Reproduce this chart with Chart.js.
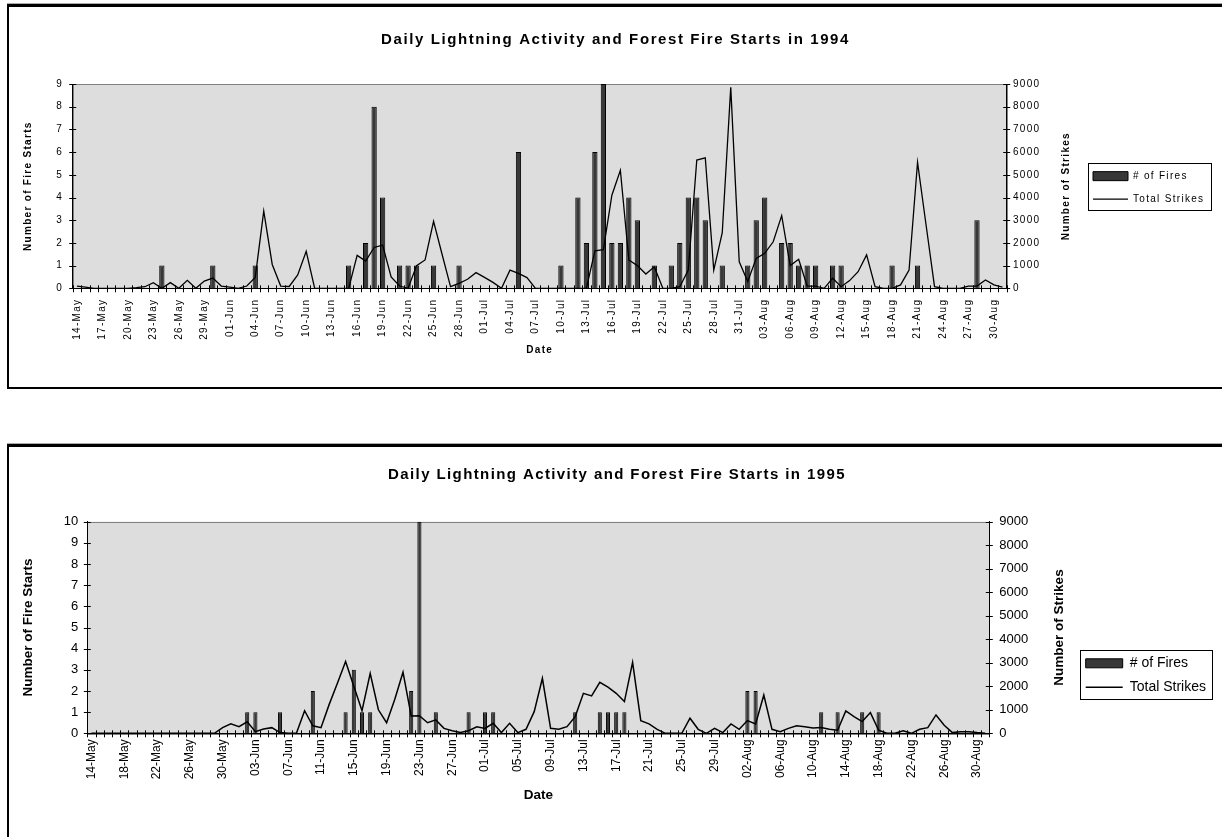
<!DOCTYPE html>
<html>
<head>
<meta charset="utf-8">
<script src="https://cdn.jsdelivr.net/npm/chart.js@4.4.1/dist/chart.umd.min.js"></script>
<style>
html, body { margin: 0; padding: 0; background: #fff; width: 1222px; height: 837px; overflow: hidden; }
canvas { position: absolute; left: 0; }
#c94 { top: 0; }
#c95 { top: 440px; }
.frame { position: absolute; left: 7px; width: 1400px; border-left: 2px solid #000; pointer-events: none; box-shadow: 0 -1px 0 #aaa; }
#f94 { top: 4px; height: 380px; border-top: 3px solid #000; border-bottom: 2px solid #000; }
#f95 { top: 444px; height: 500px; border-top: 3px solid #000; }
</style>
</head>
<body>
<canvas id="c94" width="1222" height="440"></canvas>
<canvas id="c95" width="1222" height="397"></canvas>
<div class="frame" id="f94"></div>
<div class="frame" id="f95"></div>
<script>
// daily values, 14-May .. 31-Aug
const fires94 = [
  0,0,0,0,0,0,0,0,0,0,
  1,0,0,0,0,0,1,0,0,0,
  0,1,0,0,0,0,0,0,0,0,
  0,0,1,0,2,8,4,0,1,1,
  1,0,1,0,0,1,0,0,0,0,
  0,0,6,0,0,0,0,1,0,4,
  2,6,9,2,2,4,3,0,1,0,
  1,2,4,4,3,0,1,0,0,1,
  3,4,0,2,2,1,1,1,0,1,
  1,0,0,0,0,0,1,0,0,1,
  0,0,0,0,0,0,3,0,0,0]
const strikes94 = [
  100,50,0,0,0,0,0,30,70,250,
  0,250,0,350,0,320,450,100,50,0,
  100,480,3400,1050,100,80,590,1630,0,0,
  0,0,0,1450,1200,1800,1900,500,100,0,
  1000,1250,2950,1500,70,220,400,690,480,260,
  0,800,660,470,0,0,0,0,0,0,
  0,1650,1700,4100,5200,1250,1000,630,950,0,
  0,70,800,5650,5750,800,2450,8850,1170,300,
  1320,1540,2050,3200,1000,1280,100,100,0,440,
  70,340,730,1470,70,0,0,150,800,5550,
  2800,70,0,0,0,100,100,370,150,50]
const fires95 = [
  0,0,0,0,0,0,0,0,0,0,
  0,0,0,0,0,0,0,0,0,1,
  1,0,0,1,0,0,0,2,0,0,
  0,1,3,1,1,0,0,0,0,2,
  10,0,1,0,0,0,1,0,1,1,
  0,0,0,0,0,0,0,0,0,1,
  0,0,1,1,1,1,0,0,0,0,
  0,0,0,0,0,0,0,0,0,0,
  2,2,0,0,0,0,0,0,0,1,
  0,1,0,0,1,0,1,0,0,0,
  0,0,0,0,0,0,0,0,0,0]
const strikes95 = [
  0,0,0,0,0,0,0,0,0,0,
  0,0,0,0,0,0,240,400,285,490,
  70,185,240,30,0,0,960,320,240,1230,
  2130,3050,2000,960,2550,1000,450,1450,2600,740,
  750,450,570,210,110,30,110,280,210,425,
  30,425,30,170,920,2340,210,170,280,710,
  1700,1590,2170,1960,1700,1350,3020,540,400,170,
  0,0,0,640,170,0,210,30,400,170,
  540,400,1630,170,70,210,320,280,225,250,
  170,130,950,710,500,880,130,0,0,110,
  0,170,240,780,340,30,70,70,30,0]
const fireMax94 = 9
const fireMax95 = 10
const strikeMax = 9000
const months = ['Jan','Feb','Mar','Apr','May','Jun','Jul','Aug','Sep','Oct','Nov','Dec']

function dayLabels(year, n) {
  let out = []
  for (let i = 0; i < n; i++) {
    let d = new Date(year, 4, 14 + i)
    out.push(String(d.getDate()).padStart(2, '0') + '-' + months[d.getMonth()])
  }
  return out
}

const FONT = '"Liberation Sans", Arial, sans-serif'
Chart.defaults.font.family = FONT
Chart.defaults.color = '#000'

// plot background, crossing tick marks, right axis title, legend frame
const excelLook = {
  id: 'excelLook',
  beforeUpdate(chart, args, o) {
    chart.ctx.letterSpacing = o.spacing + 'px'
  },
  afterLayout(chart, args, o) {
    // legend sits in the chartArea slot, move it out to the right margin
    let lg = chart.legend
    let dx = o.legendLeft - lg.left
    lg.left += dx; lg.right += dx
    lg.top += o.legendShift; lg.bottom += o.legendShift
    let tb = chart.titleBlock
    if (!tb.spaced) {
      let draw = tb.draw
      tb.draw = function () {
        let c = this.ctx, prev = c.letterSpacing
        c.letterSpacing = o.titleSpacing + 'px'
        draw.apply(this, arguments)
        c.letterSpacing = prev
      }
      tb.spaced = true
    }
  },
  beforeDraw(chart, args, o) {
    let {ctx, chartArea: a} = chart
    ctx.letterSpacing = o.spacing + 'px'
    ctx.save()
    ctx.fillStyle = '#dddddd'
    ctx.fillRect(a.left, a.top, a.width, a.height)
    ctx.strokeStyle = '#808080'
    ctx.lineWidth = 1
    ctx.strokeRect(Math.round(a.left) + .5, Math.round(a.top) + .5, Math.round(a.width), Math.round(a.height))
    ctx.restore()
  },
  afterDraw(chart, args, o) {
    let {ctx, chartArea: a, scales: {x, y, y1}} = chart
    ctx.save()
    ctx.strokeStyle = '#000'
    ctx.lineWidth = 1
    ctx.beginPath()
    for (let i = 0; i <= chart.data.labels.length; i++) {
      let px = Math.round(x.getPixelForValue(i - 0.5)) + .5
      ctx.moveTo(px, a.bottom - 3); ctx.lineTo(px, a.bottom + 4)
    }
    ;[[y, a.left], [y1, a.right]].forEach(([s, edge]) => {
      s.ticks.forEach((t, i) => {
        let py = Math.round(s.getPixelForTick(i)) + .5
        ctx.moveTo(edge - 3.5, py); ctx.lineTo(edge + 3.5, py)
      })
    })
    ctx.stroke()
    // legend frame
    let hb = chart.legend.legendHitBoxes, f = o.legendFrame
    let last = hb[hb.length - 1]
    let top = hb[0].top - f.top, bottom = last.top + last.height + f.bottom
    ctx.strokeRect(Math.round(hb[0].left - f.left) + .5, Math.round(top) + .5, Math.round(f.width), Math.round(bottom - top))
    // right axis title reads bottom-to-top like the left one
    ctx.fillStyle = '#000'
    ctx.font = 'bold ' + o.axisTitleSize + 'px ' + FONT
    ctx.textAlign = 'center'
    ctx.textBaseline = 'middle'
    ctx.translate(a.right + o.rightTitleX, (a.top + a.bottom) / 2)
    ctx.rotate(-Math.PI / 2)
    ctx.fillText('Number of Strikes', 0, 0)
    ctx.restore()
  }
}

function lightningChart(id, year, fires, strikes, fireMax, lk) {
  let labels = dayLabels(year, fires.length)
  return new Chart(document.getElementById(id), {
    type: 'bar',
    data: {
      labels: labels,
      datasets: [{
        type: 'bar',
        label: '# of Fires',
        data: fires,
        yAxisID: 'y',
        backgroundColor: '#383838',
        borderColor: '#000',
        borderWidth: 1,
        barPercentage: lk.bar,
        categoryPercentage: 1,
        pointStyle: 'rect',
        order: 1
      }, {
        type: 'line',
        label: 'Total Strikes',
        data: strikes,
        yAxisID: 'y1',
        borderColor: '#000',
        borderWidth: lk.line,
        pointRadius: 0,
        pointBorderWidth: lk.line,
        pointStyle: 'line',
        tension: 0,
        order: 0
      }]
    },
    options: {
      responsive: false,
      animation: false,
      events: [],
      layout: { padding: { left: lk.padL, right: 5, top: 0, bottom: 0 } },
      scales: {
        x: {
          offset: true,
          grid: { display: false, drawTicks: false },
          border: { color: '#000', width: 1 },
          ticks: {
            autoSkip: false, maxRotation: 90, minRotation: 90,
            padding: lk.xPad, font: { size: lk.xFont }, color: '#000',
            callback: (v, i) => i % lk.step ? '' : labels[i]
          },
          title: { display: true, text: 'Date', color: '#000',
            font: { size: lk.axisTitleSize, weight: 'bold' }, padding: { top: 0, bottom: lk.xTitlePad } },
          afterFit: s => { s.height = lk.xHeight }
        },
        y: {
          position: 'left', min: 0, max: fireMax,
          grid: { display: false, drawTicks: false },
          border: { color: '#000', width: 1 },
          ticks: { stepSize: 1, padding: lk.yPad, font: { size: lk.yFont }, color: '#000' },
          title: { display: true, text: 'Number of Fire Starts', color: '#000',
            font: { size: lk.axisTitleSize, weight: 'bold' }, padding: { top: lk.yTitlePad, bottom: 0 } },
          afterFit: s => { s.width = lk.yWidth }
        },
        y1: {
          position: 'right', min: 0, max: strikeMax,
          grid: { display: false, drawTicks: false },
          border: { color: '#000', width: 1 },
          ticks: { stepSize: 1000, padding: lk.y1Pad, font: { size: lk.yFont }, color: '#000', callback: v => v },
          afterFit: s => { s.width = lk.y1Width }
        }
      },
      plugins: {
        tooltip: { enabled: false },
        title: {
          display: true,
          text: 'Daily Lightning Activity and Forest Fire Starts in ' + year,
          color: '#000',
          font: { size: 15, weight: 'bold' },
          padding: { top: lk.titleTop, bottom: lk.titleBottom }
        },
        legend: {
          position: 'chartArea',
          labels: {
            usePointStyle: true, pointStyleWidth: lk.swatch, boxHeight: 9,
            padding: lk.legendPad, font: { size: lk.legendFont }, color: '#000',
            sort: (a, b) => a.datasetIndex - b.datasetIndex
          }
        },
        excelLook: {
          spacing: lk.spacing, titleSpacing: lk.titleSpacing,
          legendLeft: lk.legendLeft, legendShift: lk.legendShift, legendFrame: lk.frame,
          axisTitleSize: lk.axisTitleSize, rightTitleX: lk.rightTitleX
        }
      }
    },
    plugins: [excelLook]
  })
}

lightningChart('c94', 1994, fires94, strikes94, fireMax94, {
  padL: 14, spacing: 1.3, titleSpacing: 1.6, titleTop: 31.3, titleBottom: 34.7,
  yWidth: 58.7, y1Width: 210.3, xHeight: 151.7,
  yFont: 10, xFont: 10, axisTitleSize: 10, yPad: 9.7, y1Pad: 6.3, xPad: 10.4,
  yTitlePad: 8.3, xTitlePad: 84, rightTitleX: 59.3, step: 3,
  bar: .62, line: 1.3,
  legendFont: 10, legendPad: 13, swatch: 35, legendLeft: 1080, legendShift: 85.5,
  frame: { left: 5, top: 8, bottom: 6.4, width: 123.4 }
})

lightningChart('c95', 1995, fires95, strikes95, fireMax95, {
  padL: 17, spacing: 0, titleSpacing: 1.4, titleTop: 26, titleBottom: 37.7,
  yWidth: 70.3, y1Width: 227.7, xHeight: 103.7,
  yFont: 13, xFont: 12, axisTitleSize: 13.5, yPad: 9, y1Pad: 10, xPad: 6,
  yTitlePad: 2.9, xTitlePad: 33.9, rightTitleX: 69.7, step: 4,
  bar: .5, line: 1.5,
  legendFont: 14, legendPad: 10, swatch: 37, legendLeft: 1075.7, legendShift: 129.5,
  frame: { left: 5.7, top: 6.5, bottom: 4.8, width: 132.3 }
})
</script>
</body>
</html>
